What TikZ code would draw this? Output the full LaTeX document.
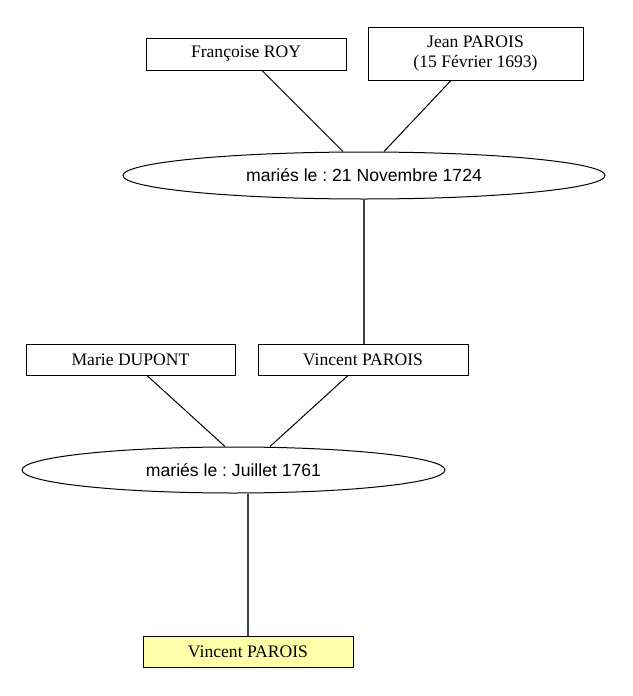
\documentclass[tikz,border=0pt]{standalone}
\usepackage{fontspec}
\setmainfont{Liberation Serif}
\setsansfont{Liberation Sans}
\usepackage{tikz}
\usetikzlibrary{shapes.geometric}
\frenchspacing

\begin{document}
\begin{tikzpicture}[x=1pt,y=-1pt,
  person/.style={draw,line width=1pt,inner sep=0pt,font=\fontsize{17.6}{20}\selectfont,align=center},
  wedding/.style={draw,ellipse,line width=1pt,inner sep=0pt,font=\sffamily\fontsize{17.6}{20}\selectfont},
  link/.style={line width=1pt},
  descent/.style={line width=1.3pt,draw=black!75}]
  \useasboundingbox (0,0) rectangle (632,696) ;
  % generation 1
  \node[person,minimum width=200pt,minimum height=32pt] (roy) at (246,54) {Françoise ROY} ;
  \node[person,minimum width=215pt,minimum height=53pt] (jean) at (475.5,53.5) {Jean PAROIS\\(15 Février 1693)} ;
  \node[wedding,minimum width=482pt,minimum height=47pt] (m1) at (364,175.5) {mariés le : 21 Novembre 1724} ;
  \draw[link] ([xshift=16pt]roy.south) -- ([xshift=-21pt]m1.north) ;
  \draw[link] ([xshift=-24.5pt]jean.south) -- ([xshift=20pt]m1.north) ;
  % generation 2
  \node[person,minimum width=209pt,minimum height=31pt] (marie) at (130.5,359.5) {Marie DUPONT} ;
  \node[person,minimum width=210pt,minimum height=31pt] (vincent) at (363,359.5) {Vincent PAROIS} ;
  \draw[descent] (m1.south) -- (m1.south |- vincent.north) ;
  \node[wedding,minimum width=423pt,minimum height=46pt] (m2) at (233.5,470) {mariés le : Juillet 1761} ;
  \draw[link] ([xshift=16.5pt]marie.south) -- ([xshift=-8.5pt]m2.north) ;
  \draw[link] ([xshift=-15pt]vincent.south) -- ([xshift=36.5pt]m2.north) ;
  % generation 3
  \node[person,fill={rgb,255:red,255;green,255;blue,170},minimum width=210pt,minimum height=31pt] (child) at (248,651.5) {Vincent PAROIS} ;
  \draw[descent] (m2.south -| child.north) -- (child.north) ;
\end{tikzpicture}
\end{document}
